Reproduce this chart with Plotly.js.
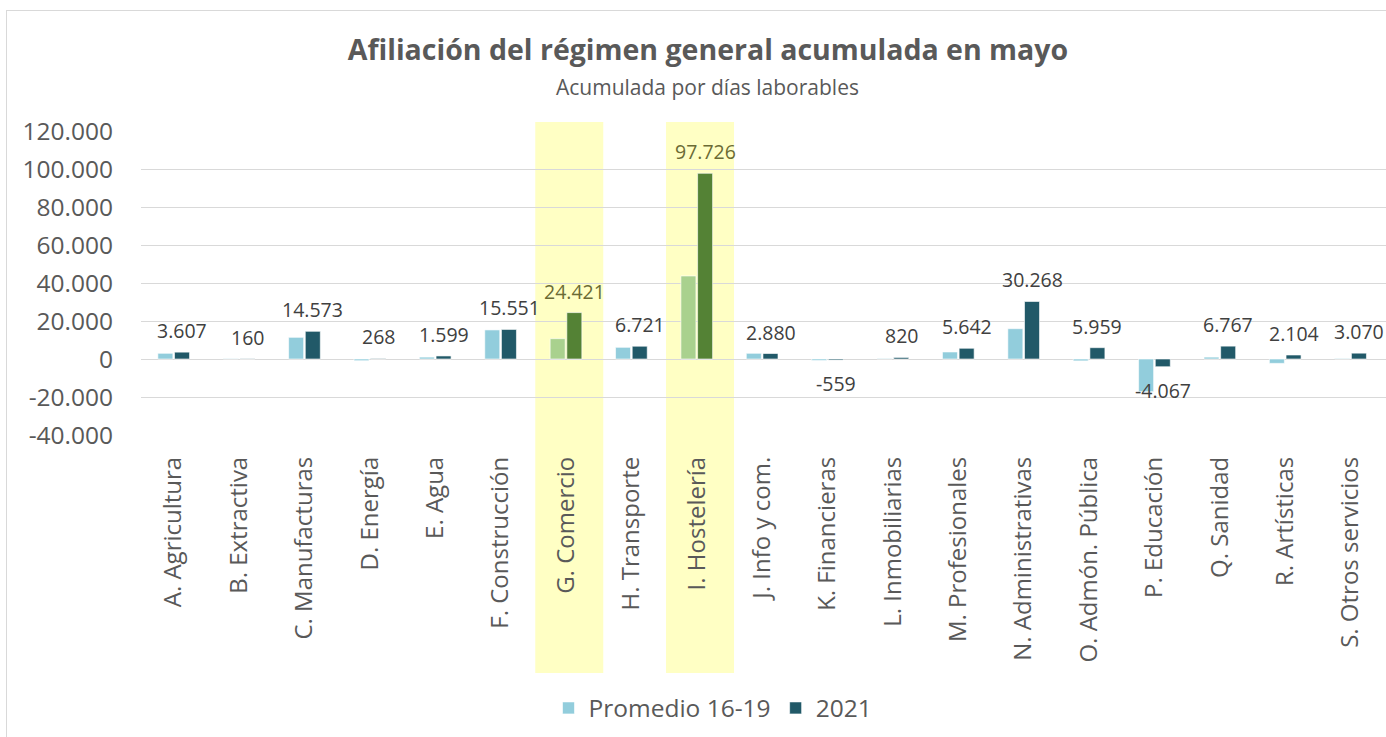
<!DOCTYPE html>
<html>
<head>
<meta charset="utf-8">
<script src="https://cdn.plot.ly/plotly-3.0.1.min.js"></script>
<style>
html,body{margin:0;padding:0;background:#fff;overflow:hidden;}
#frame{position:absolute;left:6px;top:10px;width:1500px;height:800px;border:1px solid #d9d9d9;pointer-events:none;z-index:5;}
#chart{position:absolute;left:0;top:0;width:1386px;height:737px;}
</style>
</head>
<body>
<div id="chart"></div>
<div id="frame"></div>
<script>
const categories = ["A. Agricultura","B. Extractiva","C. Manufacturas","D. Energía","E. Agua","F. Construcción","G. Comercio","H. Transporte","I. Hostelería","J. Info y com.","K. Financieras","L. Inmobiliarias","M. Profesionales","N. Administrativas","O. Admón. Pública","P. Educación","Q. Sanidad","R. Artísticas","S. Otros servicios"];
const promedio = [3000, 250, 11400, -900, 1000, 15300, 10700, 6150, 43700, 3000, -800, 300, 3700, 15950, -1000, -17200, 1000, -2300, 300];
const y2021 = [3607, 160, 14573, 268, 1599, 15551, 24421, 6721, 97726, 2880, -559, 820, 5642, 30268, 5959, -4067, 6767, 2104, 3070];
const highlighted = ["G. Comercio", "I. Hostelería"];
const tickVals = [-40000, -20000, 0, 20000, 40000, 60000, 80000, 100000, 120000];
const tickText = ["-40.000", "-20.000", "0", "20.000", "40.000", "60.000", "80.000", "100.000", "120.000"];

function fmt(v){
  const s = Math.abs(v).toString().replace(/\B(?=(\d{3})+(?!\d))/g, ".");
  return (v < 0 ? "-" : "") + s;
}
const isHi = categories.map(c => highlighted.indexOf(c) >= 0);
const colPromedio = isHi.map(h => h ? "#A9D18E" : "#92CDDC");
const col2021 = isHi.map(h => h ? "#548235" : "#215968");

const traces = [
  {type:"bar", name:"Promedio 16-19", x:categories, y:promedio,
   marker:{color:colPromedio, line:{color:"#ffffff", width:0.6}}, hoverinfo:"x+y"},
  {type:"bar", name:"2021", x:categories, y:y2021,
   marker:{color:col2021, line:{color:"#ffffff", width:0.6}}, hoverinfo:"x+y"}
];

const annotations = categories.map((c, i) => {
  const v = y2021[i];
  return {
    x: c, y: v, xref:"x", yref:"y", text: fmt(v), showarrow:false,
    xshift: 8.4, yshift: v >= 0 ? 6 : -8,
    yanchor: v >= 0 ? "bottom" : "top",
    font:{family:"Open Sans, sans-serif", size:19.5, color: isHi[i] ? "#6b6b35" : "#404040"}
  };
});
annotations.push({
  text:"Acumulada por días laborables", xref:"paper", yref:"paper",
  x:(707-141)/1245, y:(435-87)/304, xanchor:"center", yanchor:"middle", showarrow:false,
  font:{family:"Open Sans, sans-serif", size:21, color:"#595959"}
});

const shapes = categories.map((c, i) => isHi[i] ? {
  type:"rect", xref:"x", yref:"paper", x0:i-0.47, x1:i+0.57, y0:(435-673)/304, y1:(435-122)/304,
  fillcolor:"#FFFFC4", line:{width:0}, layer:"below"
} : null).filter(s => s);

const layout = {
  width:1386, height:737,
  margin:{l:141, r:0, t:131, b:302},
  paper_bgcolor:"#ffffff", plot_bgcolor:"rgba(0,0,0,0)",
  title:{text:"<b>Afiliación del régimen general acumulada en mayo</b>", x:708/1386, xanchor:"center",
         y:1-50/737, yanchor:"middle", yref:"container",
         font:{family:"Open Sans, sans-serif", size:28.5, color:"#595959"}},
  barmode:"group", bargap:0.49, bargroupgap:0.1,
  showlegend:true,
  legend:{orientation:"h", x:(713-141)/1245, xanchor:"center", y:(435-708)/304, yanchor:"middle",
          font:{family:"Open Sans, sans-serif", size:24.5, color:"#595959"}, itemwidth:30, traceorder:"normal"},
  xaxis:{type:"category", tickangle:-90, showgrid:false, showline:false, zeroline:false,
         ticks:"", ticklabelstandoff:16,
         tickfont:{family:"Open Sans, sans-serif", size:24, color:"#595959"}, fixedrange:true},
  yaxis:{range:[-40000,120000], tickvals:tickVals, ticktext:tickText,
         showgrid:true, gridcolor:"#d9d9d9", gridwidth:1, zeroline:true, zerolinecolor:"#d9d9d9", zerolinewidth:1,
         showline:false, ticks:"", ticklabelstandoff:27,
         tickfont:{family:"Open Sans, sans-serif", size:24.5, color:"#595959"}, fixedrange:true},
  annotations:annotations,
  shapes:shapes
};

Plotly.newPlot("chart", traces, layout, {displayModeBar:false, staticPlot:true});
</script>
</body>
</html>
